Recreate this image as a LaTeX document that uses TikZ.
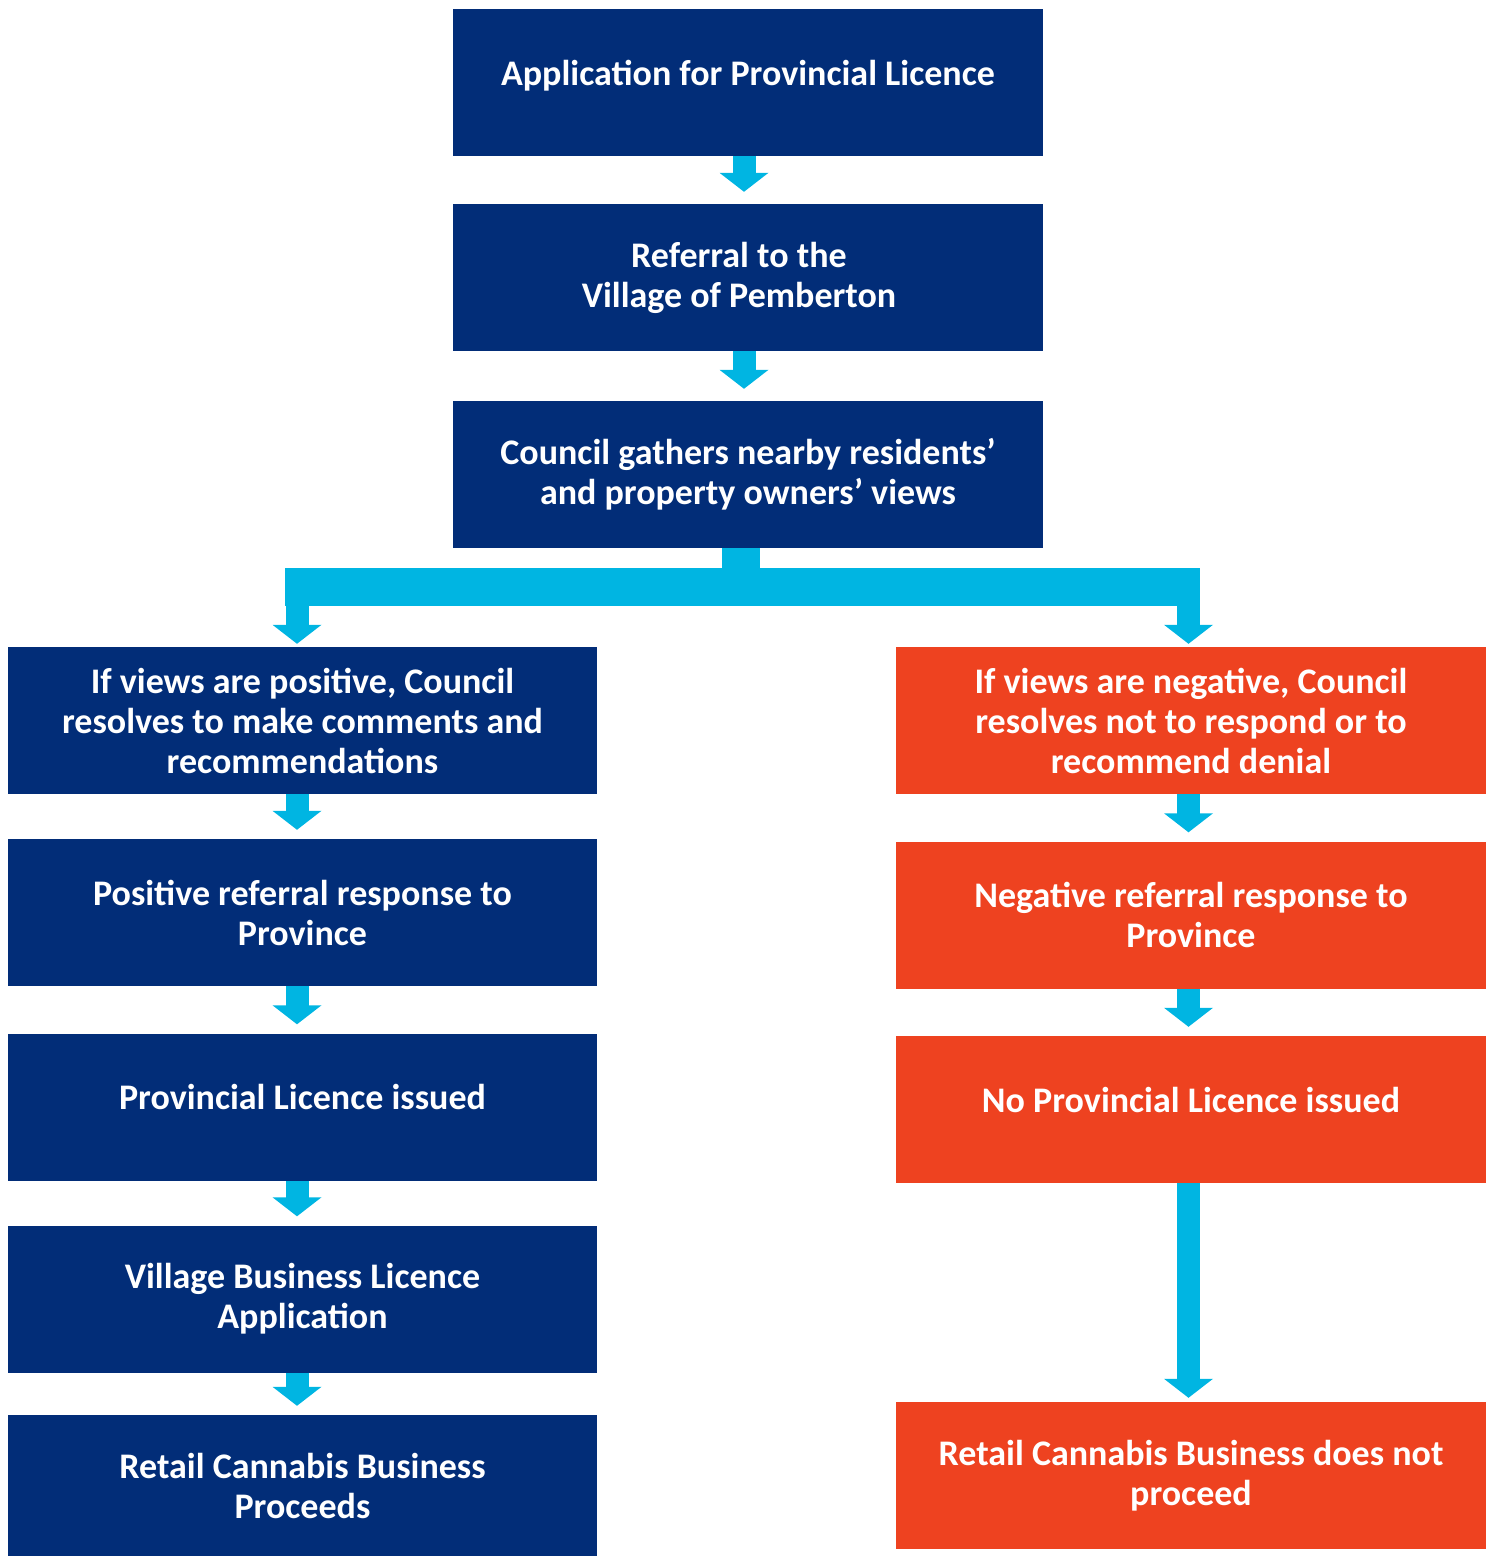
\documentclass[tikz,border=0pt]{standalone}
\usepackage{fontspec}
\setmainfont{Carlito}
\usetikzlibrary{arrows.meta}
\definecolor{dblue}{RGB}{2,45,120}
\definecolor{cyanA}{RGB}{0,181,226}
\definecolor{oredA}{RGB}{238,66,32}
\begin{document}
\begin{tikzpicture}[x=1pt,y=-1pt,
  box/.style={fill=dblue, text=white, inner sep=0pt, minimum width=590pt, minimum height=147pt,
    align=center, font=\fontsize{36}{40}\selectfont\bfseries},
  rbox/.style={box, fill=oredA},
  flow/.style={draw=cyanA, line width=23pt, -{Triangle[width=48pt,length=19pt]}, shorten >=9pt},
  bar/.style={draw=cyanA, line width=38pt}]
\useasboundingbox (0,0) rectangle (1494,1556);
% top column
\node[box, text depth=20pt] (T1) at (748,82.5) {Application for Provincial Licence};
\node[box] (T2) at (748,277.5) {Referral to the\hspace*{18pt}\\Village of Pemberton\hspace*{18pt}};
\node[box] (T3) at (748,474.5) {Council gathers nearby residents’\\and property owners’ views};
% left column
\node[box, minimum width=589pt] (L1) at (302.5,720.5) {If views are positive, Council\\resolves to make comments and\\recommendations};
\node[box, minimum width=589pt] (L2) at (302.5,912.5) {Positive referral response to\\Province};
\node[box, minimum width=589pt, text depth=20pt] (L3) at (302.5,1107) {Provincial Licence issued};
\node[box, minimum width=589pt] (L4) at (302.5,1299) {Village Business Licence\\Application};
\node[box, minimum width=589pt, minimum height=141pt] (L5) at (302.5,1485.5) {Retail Cannabis Business\\Proceeds};
% right column
\node[rbox] (R1) at (1191,720.5) {If views are negative, Council\\resolves not to respond or to\\recommend denial};
\node[rbox] (R2) at (1191,915) {Negative referral response to\\Province};
\node[rbox, text depth=20pt] (R3) at (1191,1109.5) {No Provincial Licence issued};
\node[rbox] (R4) at (1191,1475.5) {Retail Cannabis Business does not\\proceed};
% top arrows
\draw[flow, shorten >=12pt] ([xshift=-4pt]T1.south) -- ([xshift=-4pt]T2.north);
\draw[flow, shorten >=12pt] ([xshift=-4pt]T2.south) -- ([xshift=-4pt]T3.north);
% branch
\coordinate (bL) at (285,587);
\coordinate (bR) at (1200,587);
\coordinate (sL) at (297,605);
\coordinate (sR) at (1188.5,605);
\draw[bar] ([xshift=-7pt]T3.south) -- ([xshift=-7pt]T3.south |- bR);
\fill[cyanA] (285,568) rectangle (1200,606);
\draw[flow, shorten >=3pt] (sL) -- (sL |- L1.north);
\draw[flow, shorten >=3pt] (sR) -- (sR |- R1.north);
% left arrows
\draw[flow] ([xshift=-5.5pt]L1.south) -- ([xshift=-5.5pt]L2.north);
\draw[flow] ([xshift=-5.5pt]L2.south) -- ([xshift=-5.5pt]L3.north);
\draw[flow] ([xshift=-5.5pt]L3.south) -- ([xshift=-5.5pt]L4.north);
\draw[flow] ([xshift=-5.5pt]L4.south) -- ([xshift=-5.5pt]L5.north);
% right arrows
\draw[flow] ([xshift=-2.5pt]R1.south) -- ([xshift=-2.5pt]R2.north);
\draw[flow] ([xshift=-2.5pt]R2.south) -- ([xshift=-2.5pt]R3.north);
\draw[flow, shorten >=4pt] ([xshift=-2.5pt]R3.south) -- ([xshift=-2.5pt]R4.north);
\end{tikzpicture}
\end{document}
